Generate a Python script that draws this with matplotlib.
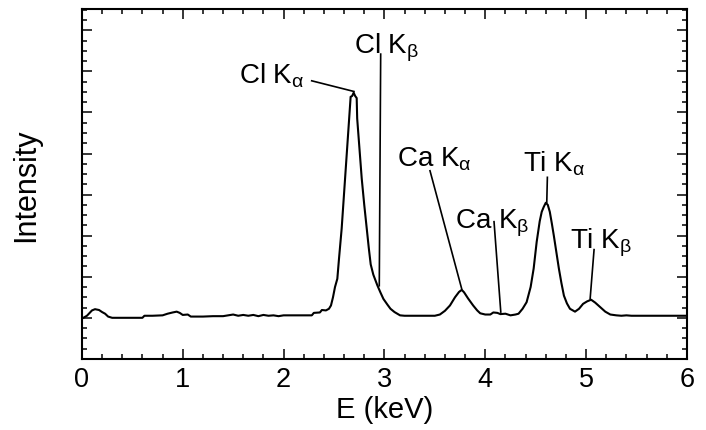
import matplotlib
matplotlib.use("Agg")
import matplotlib.pyplot as plt
from matplotlib.ticker import MultipleLocator

plt.rcParams['font.family'] = ['Liberation Sans', 'DejaVu Sans']
plt.rcParams['mathtext.fontset'] = 'custom'
plt.rcParams['mathtext.rm'] = 'Liberation Sans'
plt.rcParams['mathtext.it'] = 'Liberation Sans'

# spectrum
energy = [0.00, 0.05, 0.10, 0.13, 0.17, 0.20, 0.23, 0.26, 0.30, 0.40, 0.50, 0.60,
          0.62, 0.70, 0.80, 0.85, 0.90, 0.94, 0.97, 1.00, 1.05, 1.08, 1.20, 1.30,
          1.40, 1.45, 1.50, 1.55, 1.60, 1.65, 1.70, 1.75, 1.80, 1.85, 1.90, 1.95,
          2.00, 2.10, 2.20, 2.28, 2.30, 2.36, 2.38, 2.42, 2.45, 2.47, 2.49, 2.51,
          2.533, 2.55, 2.576, 2.61, 2.63, 2.65, 2.665, 2.68, 2.695, 2.71, 2.725,
          2.73, 2.75, 2.775, 2.80, 2.825, 2.845, 2.864, 2.89, 2.93, 2.96, 2.99,
          3.03, 3.06, 3.10, 3.155, 3.20, 3.30, 3.40, 3.50, 3.55, 3.60, 3.65, 3.70,
          3.74, 3.767, 3.79, 3.83, 3.88, 3.92, 3.95, 4.00, 4.05, 4.08, 4.12, 4.15,
          4.20, 4.25, 4.30, 4.33, 4.37, 4.41, 4.45, 4.48, 4.51, 4.54, 4.56, 4.58,
          4.60, 4.62, 4.64, 4.66, 4.68, 4.705, 4.73, 4.755, 4.78, 4.81, 4.84, 4.89,
          4.93, 4.97, 5.01, 5.05, 5.09, 5.14, 5.19, 5.24, 5.30, 5.35, 5.40, 5.45,
          5.50, 6.00]
intensity = [0.98, 1.05, 1.18, 1.21, 1.19, 1.14, 1.10, 1.03, 1.00, 1.00, 1.00, 1.00,
             1.05, 1.05, 1.06, 1.10, 1.13, 1.15, 1.12, 1.07, 1.08, 1.03, 1.03, 1.04,
             1.04, 1.06, 1.08, 1.05, 1.07, 1.05, 1.07, 1.04, 1.07, 1.05, 1.06, 1.04,
             1.06, 1.06, 1.06, 1.06, 1.12, 1.13, 1.19, 1.18, 1.22, 1.30, 1.50, 1.75,
             1.95, 2.45, 3.17, 4.39, 5.10, 5.85, 6.38, 6.40, 6.48, 6.40, 6.35,
             5.85, 5.20, 4.39, 3.75, 3.17, 2.70, 2.30, 2.05, 1.79, 1.62, 1.46,
             1.32, 1.22, 1.14, 1.06, 1.05, 1.05, 1.05, 1.05, 1.08, 1.17, 1.30, 1.50,
             1.63, 1.68, 1.62, 1.47, 1.30, 1.18, 1.11, 1.08, 1.08, 1.13, 1.12, 1.09,
             1.10, 1.06, 1.08, 1.10, 1.22, 1.38, 1.75, 2.20, 2.85, 3.35, 3.58, 3.70,
             3.80, 3.75, 3.58, 3.30, 3.00, 2.60, 2.20, 1.85, 1.54, 1.35, 1.22, 1.15,
             1.22, 1.34, 1.40, 1.44, 1.37, 1.26, 1.15, 1.08, 1.06, 1.05, 1.06, 1.05,
             1.05, 1.05]

# peak labels: text, text anchor (E, I), leader line start and end
labels = [r"Cl K$_\alpha$", r"Cl K$_\beta$", r"Ca K$_\alpha$",
          r"Ca K$_\beta$", r"Ti K$_\alpha$", r"Ti K$_\beta$"]
label_pos = [(1.557, 6.73), (2.698, 7.46), (3.12, 4.70),
             (3.70, 3.20), (4.372, 4.58), (4.84, 2.72)]
line_from = [(2.279, 6.77), (2.963, 7.42), (3.452, 4.58),
             (4.087, 3.34), (4.616, 4.42), (5.079, 2.66)]
line_to = [(2.698, 6.51), (2.949, 1.78), (3.767, 1.70),
           (4.154, 1.14), (4.61, 3.81), (5.04, 1.46)]

fig = plt.figure(figsize=(7.06, 4.31), dpi=100)
ax = fig.add_axes([0.116, 0.165, 0.857, 0.812])

ax.plot(energy, intensity, color='black', lw=1.5)

for t, p, a, b in zip(labels, label_pos, line_from, line_to):
    ax.text(p[0], p[1], t, fontsize=20, ha='left', va='baseline')
    ax.plot([a[0], b[0]], [a[1], b[1]], color='black', lw=1.2)

ax.set_xlim(0, 6)
ax.set_ylim(0, 8.52)
ax.xaxis.set_major_locator(MultipleLocator(1))
ax.xaxis.set_minor_locator(MultipleLocator(0.2))
ax.yaxis.set_major_locator(MultipleLocator(1))
ax.yaxis.set_minor_locator(MultipleLocator(0.25))
ax.tick_params(which='both', direction='in', top=True, right=True, width=1.1)
ax.tick_params(which='major', length=7, labelsize=19.5, pad=5)
ax.tick_params(which='minor', length=3.5)
ax.tick_params(axis='y', labelleft=False)
for s in ax.spines.values():
    s.set_linewidth(1.5)

ax.set_xlabel("E (keV)", fontsize=21, labelpad=2)
ax.set_ylabel("Intensity", fontsize=22)
ax.yaxis.set_label_coords(-0.068, 0.5)

fig.savefig("out.png", dpi=100)
